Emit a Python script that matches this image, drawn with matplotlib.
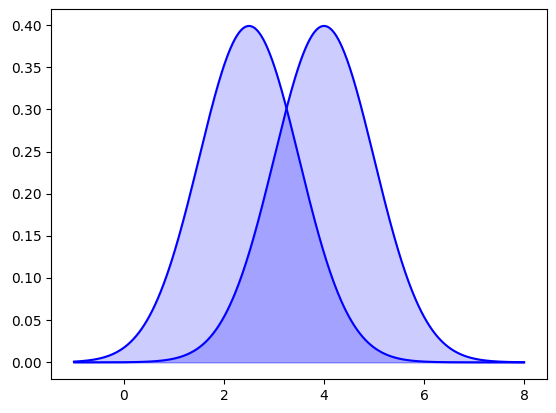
import numpy as np
import matplotlib
matplotlib.use("Agg")
import matplotlib.pyplot as plt

# two normal curves, same width, different centres
means = [2.5, 4.0]
sigmas = [1.0, 1.0]
x_start, x_stop = -1, 8

x = np.linspace(x_start, x_stop, 500)

fig = plt.figure(figsize=(5.56, 4.13), dpi=100)
ax = fig.add_axes([0.0926, 0.082, 0.8904, 0.896])

for mu, sd in zip(means, sigmas):
    y = np.exp(-0.5 * ((x - mu) / sd) ** 2) / (sd * np.sqrt(2 * np.pi))
    ax.plot(x, y, color='blue')
    ax.fill_between(x, y, color='blue', alpha=0.2)

fig.savefig("out.png", dpi=100)
